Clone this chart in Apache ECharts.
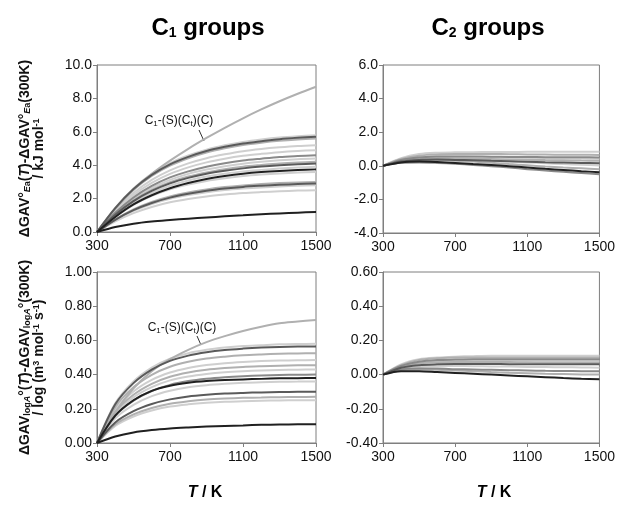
<!DOCTYPE html>
<html>
<head>
<meta charset="utf-8">
<title>GAV temperature dependence</title>
<script src="https://cdn.jsdelivr.net/npm/echarts@6/dist/echarts.min.js"></script>
<style>
    html, body { margin: 0; padding: 0; background: #fff; }
    #main { width: 618px; height: 509px; }
</style>
</head>
<body>
<div id="main"></div>
<script type="text/javascript">
    var temps = [300, 400, 500, 600, 700, 800, 900, 1000, 1100, 1200, 1300, 1400, 1500];

    // C1 groups, Ea contribution (kJ/mol)
    var eaC1 = [
        [0, 1.4, 2.55, 3.48, 4.27, 4.98, 5.63, 6.24, 6.81, 7.34, 7.83, 8.28, 8.7],
        [0, 1.45, 2.61, 3.48, 4.12, 4.58, 4.93, 5.19, 5.39, 5.54, 5.66, 5.74, 5.8],
        [0, 1.43, 2.57, 3.42, 4.05, 4.5, 4.85, 5.1, 5.3, 5.44, 5.56, 5.64, 5.7],
        [0, 1.4, 2.52, 3.36, 3.98, 4.42, 4.76, 5.01, 5.21, 5.35, 5.46, 5.54, 5.6],
        [0, 1.3, 2.34, 3.12, 3.69, 4.11, 4.42, 4.65, 4.84, 4.97, 5.07, 5.15, 5.2],
        [0, 1.23, 2.21, 2.94, 3.48, 3.87, 4.17, 4.39, 4.56, 4.68, 4.78, 4.85, 4.9],
        [0, 1.15, 2.07, 2.76, 3.27, 3.63, 3.91, 4.12, 4.28, 4.39, 4.49, 4.55, 4.6],
        [0, 1.1, 1.98, 2.64, 3.12, 3.48, 3.74, 3.94, 4.09, 4.2, 4.29, 4.36, 4.4],
        [0, 1.05, 1.89, 2.52, 2.98, 3.32, 3.57, 3.76, 3.91, 4.01, 4.1, 4.16, 4.2],
        [0, 1.03, 1.85, 2.46, 2.91, 3.24, 3.49, 3.67, 3.81, 3.92, 4.0, 4.06, 4.1],
        [0, 0.98, 1.76, 2.34, 2.77, 3.08, 3.32, 3.49, 3.63, 3.72, 3.8, 3.86, 3.9],
        [0, 0.9, 1.65, 2.2, 2.62, 2.93, 3.17, 3.35, 3.49, 3.59, 3.66, 3.71, 3.75],
        [0, 0.9, 1.62, 2.16, 2.56, 2.84, 3.06, 3.22, 3.35, 3.44, 3.51, 3.56, 3.6],
        [0, 0.75, 1.35, 1.8, 2.13, 2.37, 2.55, 2.69, 2.79, 2.87, 2.93, 2.97, 3.0],
        [0, 0.73, 1.31, 1.74, 2.06, 2.29, 2.47, 2.6, 2.7, 2.77, 2.83, 2.87, 2.9],
        [0, 0.7, 1.26, 1.68, 1.99, 2.21, 2.38, 2.51, 2.6, 2.67, 2.73, 2.77, 2.8],
        [0, 0.63, 1.13, 1.5, 1.78, 1.98, 2.13, 2.24, 2.33, 2.39, 2.44, 2.48, 2.5],
        [0, 0.3, 0.5, 0.63, 0.72, 0.8, 0.87, 0.94, 1.0, 1.06, 1.11, 1.16, 1.2]
    ];

    // C2 groups, Ea contribution (kJ/mol)
    var eaC2 = [
        [0, 0.45, 0.7, 0.78, 0.8, 0.81, 0.82, 0.825, 0.83, 0.835, 0.84, 0.84, 0.84],
        [0, 0.4, 0.6, 0.68, 0.7, 0.7, 0.7, 0.69, 0.68, 0.67, 0.66, 0.655, 0.65],
        [0, 0.35, 0.5, 0.55, 0.56, 0.555, 0.54, 0.53, 0.52, 0.515, 0.51, 0.505, 0.5],
        [0, 0.35, 0.5, 0.55, 0.55, 0.54, 0.52, 0.5, 0.48, 0.46, 0.45, 0.43, 0.42],
        [0, 0.3, 0.42, 0.45, 0.44, 0.42, 0.4, 0.38, 0.36, 0.34, 0.33, 0.31, 0.3],
        [0, 0.25, 0.35, 0.37, 0.35, 0.33, 0.3, 0.27, 0.24, 0.21, 0.19, 0.17, 0.15],
        [0, 0.28, 0.38, 0.4, 0.38, 0.35, 0.3, 0.25, 0.2, 0.15, 0.1, 0.06, 0.02],
        [0, 0.25, 0.33, 0.34, 0.3, 0.25, 0.18, 0.1, 0.03, -0.04, -0.1, -0.15, -0.2],
        [0, 0.2, 0.25, 0.22, 0.17, 0.11, 0.05, -0.02, -0.1, -0.18, -0.25, -0.32, -0.38],
        [0, 0.18, 0.2, 0.17, 0.12, 0.05, -0.02, -0.1, -0.2, -0.28, -0.36, -0.43, -0.5]
    ];

    // C1 groups, log A contribution
    var logAC1 = [
        [0, 0.18, 0.32, 0.42, 0.49, 0.545, 0.59, 0.625, 0.655, 0.68, 0.7, 0.71, 0.72],
        [0, 0.232, 0.36, 0.441, 0.493, 0.525, 0.545, 0.558, 0.567, 0.572, 0.577, 0.579, 0.58],
        [0, 0.226, 0.35, 0.429, 0.48, 0.511, 0.531, 0.544, 0.552, 0.558, 0.562, 0.564, 0.565],
        [0, 0.21, 0.326, 0.399, 0.446, 0.475, 0.494, 0.505, 0.513, 0.518, 0.522, 0.524, 0.525],
        [0, 0.194, 0.301, 0.369, 0.412, 0.439, 0.456, 0.467, 0.474, 0.479, 0.482, 0.484, 0.485],
        [0, 0.182, 0.282, 0.346, 0.387, 0.412, 0.428, 0.438, 0.445, 0.449, 0.452, 0.454, 0.455],
        [0, 0.172, 0.267, 0.327, 0.366, 0.389, 0.404, 0.414, 0.42, 0.424, 0.427, 0.429, 0.43],
        [0, 0.16, 0.248, 0.304, 0.34, 0.362, 0.376, 0.385, 0.391, 0.395, 0.398, 0.399, 0.4],
        [0, 0.16, 0.25, 0.305, 0.335, 0.352, 0.362, 0.368, 0.372, 0.375, 0.378, 0.379, 0.38],
        [0, 0.144, 0.223, 0.274, 0.306, 0.326, 0.338, 0.346, 0.352, 0.355, 0.358, 0.359, 0.36],
        [0, 0.12, 0.186, 0.228, 0.255, 0.272, 0.282, 0.289, 0.293, 0.296, 0.298, 0.299, 0.3],
        [0, 0.108, 0.167, 0.205, 0.23, 0.244, 0.254, 0.26, 0.264, 0.266, 0.268, 0.269, 0.27],
        [0, 0.1, 0.155, 0.19, 0.213, 0.226, 0.235, 0.241, 0.244, 0.247, 0.249, 0.25, 0.25],
        [0, 0.038, 0.062, 0.076, 0.085, 0.091, 0.096, 0.1, 0.103, 0.106, 0.108, 0.109, 0.11]
    ];

    // C2 groups, log A contribution
    var logAC2 = [
        [0, 0.06, 0.09, 0.1, 0.105, 0.108, 0.11, 0.11, 0.11, 0.11, 0.11, 0.11, 0.11],
        [0, 0.055, 0.085, 0.095, 0.1, 0.1, 0.1, 0.1, 0.1, 0.1, 0.1, 0.1, 0.1],
        [0, 0.05, 0.075, 0.085, 0.088, 0.09, 0.09, 0.09, 0.09, 0.09, 0.09, 0.09, 0.09],
        [0, 0.05, 0.07, 0.08, 0.082, 0.083, 0.083, 0.083, 0.082, 0.081, 0.081, 0.08, 0.08],
        [0, 0.045, 0.065, 0.072, 0.073, 0.073, 0.073, 0.073, 0.072, 0.071, 0.071, 0.07, 0.07],
        [0, 0.04, 0.055, 0.06, 0.062, 0.062, 0.062, 0.061, 0.06, 0.06, 0.06, 0.06, 0.06],
        [0, 0.035, 0.045, 0.05, 0.05, 0.049, 0.048, 0.047, 0.045, 0.044, 0.043, 0.042, 0.04],
        [0, 0.03, 0.035, 0.035, 0.032, 0.03, 0.028, 0.026, 0.024, 0.022, 0.021, 0.02, 0.02],
        [0, 0.025, 0.03, 0.028, 0.024, 0.02, 0.015, 0.011, 0.008, 0.005, 0.003, 0.001, 0],
        [0, 0.02, 0.02, 0.015, 0.01, 0.005, 0, -0.005, -0.01, -0.015, -0.02, -0.024, -0.027]
    ];

    // grey level of each curve (0 = lightest, 4 = black)
    var shadeEaC1 = [1, 0, 3, 1, 0, 0, 2, 0, 1, 3, 0, 4, 0, 1, 3, 0, 0, 4];
    var shadeEaC2 = [0, 1, 2, 0, 1, 3, 0, 1, 4, 2];
    var shadeLogAC1 = [1, 0, 3, 1, 0, 1, 0, 2, 4, 0, 3, 1, 0, 4];
    var shadeLogAC2 = [0, 1, 2, 0, 1, 3, 0, 2, 1, 4];
    var greys = ['#cfcfcf', '#b0b0b0', '#8a8a8a', '#5a5a5a', '#202020'];

    var axisGrey = '#7f7f7f';
    var font = '"Liberation Sans", Arial, sans-serif';

    var myChart = echarts.init(document.getElementById('main'));

    var series = [];
    function addCurves(list, shade, idx) {
        list.forEach(function (vals, i) {
            series.push({
                type: 'line',
                xAxisIndex: idx,
                yAxisIndex: idx,
                data: temps.map(function (t, k) { return [t, vals[k]]; }),
                showSymbol: false,
                smooth: 0.3,
                silent: true,
                z: 2 + shade[i],
                lineStyle: { color: greys[shade[i]], width: 2 }
            });
        });
    }
    addCurves(eaC1, shadeEaC1, 0);
    addCurves(eaC2, shadeEaC2, 1);
    addCurves(logAC1, shadeLogAC1, 2);
    addCurves(logAC2, shadeLogAC2, 3);

    function fmt(digits) {
        return function (v) {
            if (Math.abs(v) < 1e-9) v = 0;
            return v.toFixed(digits);
        };
    }

    var nameRich = {
        b: { fontSize: 14, fontWeight: 'bold', color: '#111', fontFamily: font, lineHeight: 14 },
        bi: { fontSize: 14, fontWeight: 'bold', fontStyle: 'italic', color: '#111', fontFamily: font, lineHeight: 14 },
        s: { fontSize: 9, fontWeight: 'bold', color: '#111', fontFamily: font, lineHeight: 9, verticalAlign: 'bottom' },
        si: { fontSize: 9, fontWeight: 'bold', fontStyle: 'italic', color: '#111', fontFamily: font, lineHeight: 9, verticalAlign: 'bottom' },
        p: { fontSize: 9, fontWeight: 'bold', color: '#111', fontFamily: font, lineHeight: 9, verticalAlign: 'top' }
    };

    var eaName = '{b|ΔGAV°}{si|E}{s|a}{b|(}{bi|T}{b|)-ΔGAV°}{si|E}{s|a}{b|(300K)}\n' +
        '{b|/ kJ mol}{p|-1}';
    var logAName = '{b|ΔGAV}{s|log}{si|A}{b|°(}{bi|T}{b|)-ΔGAV}{s|log}{si|A}{b|°(300K)}\n' +
        '{b|/ log (m}{p|3}{b| mol}{p|-1}{b| s}{p|-1}{b|)}';

    function xAx(idx) {
        return {
            type: 'value', gridIndex: idx, min: 300, max: 1500, interval: 400,
            axisLine: { show: true, onZero: false, lineStyle: { color: axisGrey } },
            axisTick: { show: true, length: 4, lineStyle: { color: axisGrey } },
            axisLabel: {
                fontSize: 14, color: '#111', fontFamily: font, margin: 7,
                formatter: function (v) { return String(v); }
            },
            splitLine: { show: false }
        };
    }
    function yAx(idx, min, max, step, digits, name) {
        return {
            type: 'value', gridIndex: idx, min: min, max: max, interval: step,
            axisLine: { show: true, onZero: false, lineStyle: { color: axisGrey } },
            axisTick: { show: true, length: 4, lineStyle: { color: axisGrey } },
            axisLabel: { fontSize: 14, color: '#111', fontFamily: font, margin: 5, formatter: fmt(digits) },
            splitLine: { show: false },
            name: name || '',
            nameLocation: 'middle',
            nameRotate: 90,
            nameGap: 51,
            nameTextStyle: { rich: nameRich, align: 'center' }
        };
    }

    var gridBase = { show: true, borderColor: axisGrey, borderWidth: 1, backgroundColor: 'transparent' };

    var titleRich = {
        t: { fontSize: 24, fontWeight: 'bold', fill: '#000', fontFamily: font },
        ts: { fontSize: 14, fontWeight: 'bold', fill: '#000', fontFamily: font, verticalAlign: 'bottom' }
    };
    var tkRich = {
        i: { fontSize: 16, fontWeight: 'bold', fontStyle: 'italic', fill: '#000', fontFamily: font },
        n: { fontSize: 16, fontWeight: 'bold', fill: '#000', fontFamily: font }
    };
    var noteRich = {
        n: { fontSize: 12, fill: '#111', fontFamily: font, lineHeight: 14 },
        s: { fontSize: 8, fill: '#111', fontFamily: font, lineHeight: 8, verticalAlign: 'bottom' }
    };
    var noteText = '{n|C}{s|1}{n|-(S)(C}{s|t}{n|)(C)}';

    function label(x, y, text, rich) {
        return {
            type: 'text', x: x, y: y, silent: true,
            style: { text: text, rich: rich, align: 'center', verticalAlign: 'middle' }
        };
    }
    function leader(x1, y1, x2, y2) {
        return {
            type: 'line', silent: true,
            shape: { x1: x1, y1: y1, x2: x2, y2: y2 },
            style: { stroke: '#333', lineWidth: 1 }
        };
    }

    var option = {
        animation: false,
        backgroundColor: '#fff',
        textStyle: { fontFamily: font },
        grid: [
            Object.assign({ left: 97, top: 65, width: 219, height: 167 }, gridBase),
            Object.assign({ left: 383, top: 65, width: 218, height: 168 }, gridBase),
            Object.assign({ left: 97, top: 272, width: 219, height: 171 }, gridBase),
            Object.assign({ left: 383, top: 272, width: 218, height: 171 }, gridBase)
        ],
        xAxis: [xAx(0), xAx(1), xAx(2), xAx(3)],
        yAxis: [
            yAx(0, 0, 10, 2, 1, eaName),
            yAx(1, -4, 6, 2, 1),
            yAx(2, 0, 1, 0.2, 2, logAName),
            yAx(3, -0.4, 0.6, 0.2, 2)
        ],
        graphic: [
            label(208, 28, '{t|C}{ts|1}{t| groups}', titleRich),
            label(488, 28, '{t|C}{ts|2}{t| groups}', titleRich),
            label(205, 493, '{i|T}{n| / K}', tkRich),
            label(494, 493, '{i|T}{n| / K}', tkRich),
            label(179, 121, noteText, noteRich),
            leader(199, 130, 204, 141),
            label(182, 328, noteText, noteRich),
            leader(197, 336, 201, 345)
        ],
        series: series
    };

    myChart.setOption(option);
</script>
</body>
</html>
